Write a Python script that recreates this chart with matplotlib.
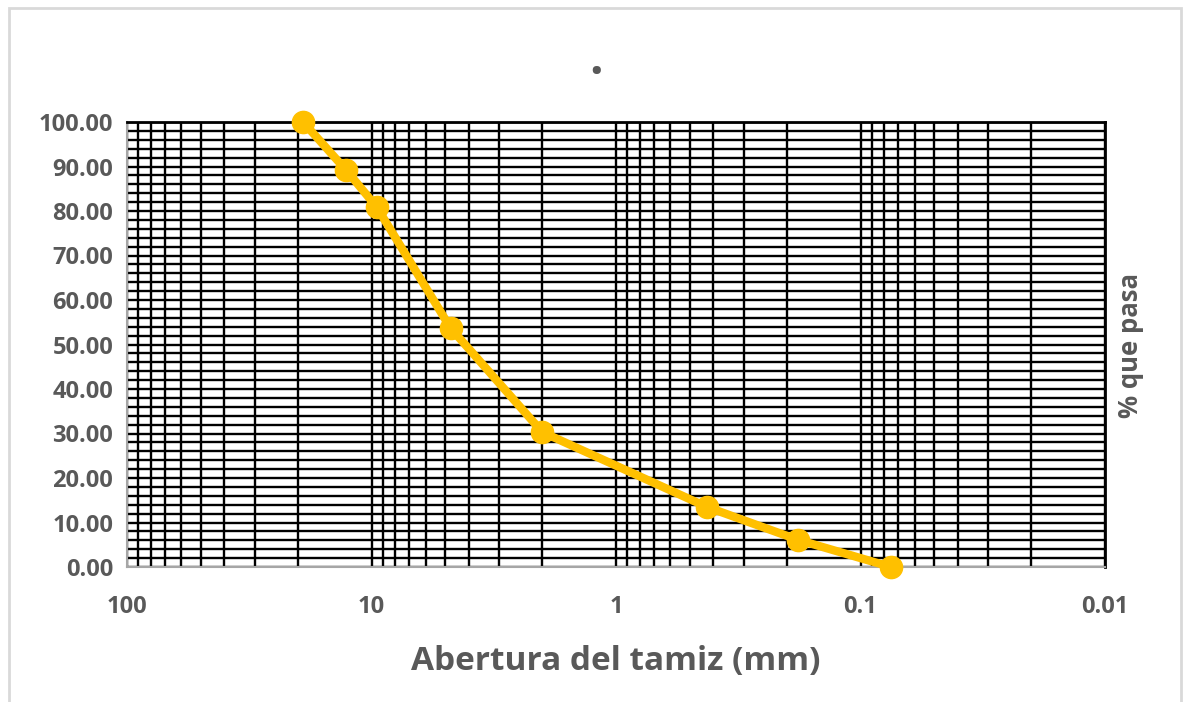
import matplotlib
matplotlib.use("Agg")
import matplotlib.pyplot as plt
from matplotlib.ticker import FixedLocator, MultipleLocator, FuncFormatter
from matplotlib.patches import Rectangle

sieve_mm = [19.05, 12.7, 9.525, 4.75, 2.0, 0.425, 0.18, 0.075]
pct_pass = [100.0, 89.2, 80.9, 53.7, 30.3, 13.5, 6.1, 0.0]
x_ticks = [100, 10, 1, 0.1, 0.01]
x_tick_labels = ["100", "10", "1", "0.1", "0.01"]
y_ticks = [0, 10, 20, 30, 40, 50, 60, 70, 80, 90, 100]

plt.rcParams['font.family'] = ['Open Sans', 'DejaVu Sans']
gray = '#595959'

fig = plt.figure(figsize=(11.84, 7.02), dpi=100)
fig.patches.append(Rectangle((9/1184, -0.1), (1181-9)/1184, 1.1 - 8/702,
                             transform=fig.transFigure, fill=False,
                             edgecolor='#d9d9d9', linewidth=2))
ax = fig.add_axes([127/1184, 1 - 567/702, (1105-127)/1184, (567-122)/702])

ax.set_xscale('log')
ax.set_xlim(100, 0.01)
ax.set_ylim(0, 100)

minor_x = []
for dec in [10, 1, 0.1, 0.01]:
    for k in range(2, 10):
        minor_x.append(dec * k)
ax.xaxis.set_major_locator(FixedLocator(x_ticks))
ax.xaxis.set_minor_locator(FixedLocator(minor_x))
ax.xaxis.set_major_formatter(FuncFormatter(lambda v, p: x_tick_labels[x_ticks.index(v)] if v in x_ticks else ""))
ax.xaxis.set_minor_formatter(FuncFormatter(lambda v, p: ""))
ax.yaxis.set_major_locator(FixedLocator(y_ticks))
ax.yaxis.set_minor_locator(MultipleLocator(2))
ax.yaxis.set_major_formatter(FuncFormatter(lambda v, p: f"{v:.2f}"))

ax.grid(True, which='both', color='black', linewidth=1.7)
ax.set_axisbelow(True)

for s in ['left', 'bottom']:
    ax.spines[s].set_color('#a6a6a6')
    ax.spines[s].set_linewidth(1.5)
for s in ['top', 'right']:
    ax.spines[s].set_color('black')
    ax.spines[s].set_linewidth(2)

ax.tick_params(axis='both', which='both', length=0, labelcolor=gray, labelsize=17)
ax.tick_params(axis='x', pad=20)
ax.tick_params(axis='y', pad=10)
for lab in ax.get_xticklabels() + ax.get_yticklabels():
    lab.set_fontweight('bold')

ax.plot(sieve_mm, pct_pass, color='#FFC000', linewidth=6, marker='o',
        markersize=16, clip_on=False, zorder=5)

ax.set_xlabel("Abertura del tamiz (mm)", fontsize=24, fontweight='bold',
              color=gray, labelpad=19)
fig.text(1131/1184, 1 - 345/702, "% que pasa", rotation=90, fontsize=18.5,
         fontweight='bold', color=gray, ha='center', va='center')
fig.text(596/1184, 1 - 62/702, ".", fontsize=34, fontweight='bold',
         color=gray, ha='center', va='center')

fig.savefig("out.png", dpi=100)
